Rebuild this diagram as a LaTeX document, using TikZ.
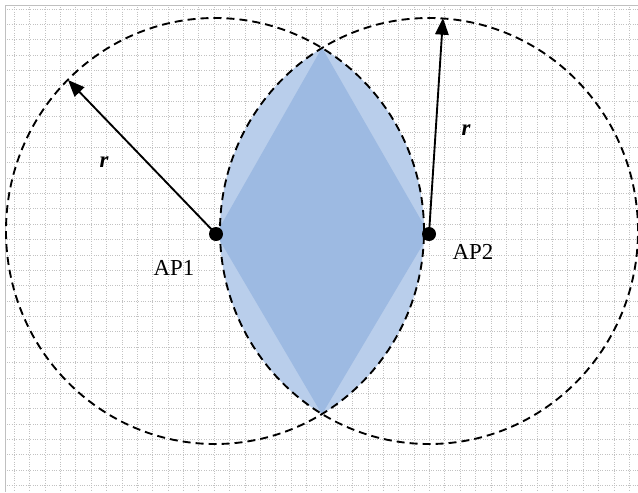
\documentclass[tikz,border=0pt]{standalone}
\usepackage{fontspec}
\setmainfont{Liberation Serif}
\usetikzlibrary{arrows.meta,positioning}
\definecolor{gridgray}{HTML}{C2C2C2}
\definecolor{framegray}{HTML}{C0C0C0}
\definecolor{lensblue}{HTML}{B9CEEB}
\definecolor{coreblue}{HTML}{9DBAE2}

\begin{document}
\begin{tikzpicture}[x=0.03cm, y=-0.03cm,
  gridline/.style={draw=gridgray, line width=0.7pt, dash pattern=on 0.7pt off 1.3pt},
  coverage/.style={draw=black, line width=1.6pt, dash pattern=on 2.4mm off 1.5mm},
  ap/.style={circle, fill=black, inner sep=0pt, minimum size=4.2mm},
  rarrow/.style={-{Triangle[length=5mm,width=4mm]}, line width=1.6pt},
  aplabel/.style={font=\fontsize{19.5}{22}\selectfont},
  rlabel/.style={font=\fontsize{19.5}{22}\selectfont\bfseries\itshape}
]
  \useasboundingbox (0,0) rectangle (638,492);
  \fill[white] (0,0) rectangle (638,492);
  % background grid
  \foreach \i in {0,...,40}
    \draw[gridline] ({14.3+15.375*\i},7) -- ({14.3+15.375*\i},492);
  \foreach \j in {0,...,31}
    \draw[gridline] (7,{9+15.375*\j}) -- (638,{9+15.375*\j});
  \draw[framegray, line width=1.5pt] (5.5,492) -- (5.5,5.5) -- (638,5.5);

  \coordinate (c1) at (215,231);
  \coordinate (c2) at (429,231);
  \coordinate (top) at (322,47.7);
  \coordinate (bottom) at (322,414.3);
  \coordinate (tip1) at (68,80);
  \coordinate (tip2) at (443,18);

  % overlap of the two cells
  \begin{scope}
    \clip (c1) ellipse [x radius=6.27cm, y radius=6.39cm];
    \fill[lensblue] (c2) ellipse [x radius=6.27cm, y radius=6.39cm];
    \fill[coreblue] (top) -- (216,234) -- (bottom) -- (429,234) -- cycle;
  \end{scope}

  \draw[coverage] (c1) ellipse [x radius=6.27cm, y radius=6.39cm];
  \draw[coverage] (c2) ellipse [x radius=6.27cm, y radius=6.39cm];

  \node[ap] (ap1) at (216,234) {};
  \node[ap] (ap2) at (429,234) {};
  \draw[rarrow] (ap1.center) -- (tip1);
  \draw[rarrow] (ap2.center) -- (tip2);

  \node[rlabel] (r1) at (104,162) {r};
  \node[rlabel] (r2) at (466,130) {r};
  \node[aplabel] (l1) at (174,268) {AP1};
  \node[aplabel] (l2) at (473,252) {AP2};
\end{tikzpicture}
\end{document}
